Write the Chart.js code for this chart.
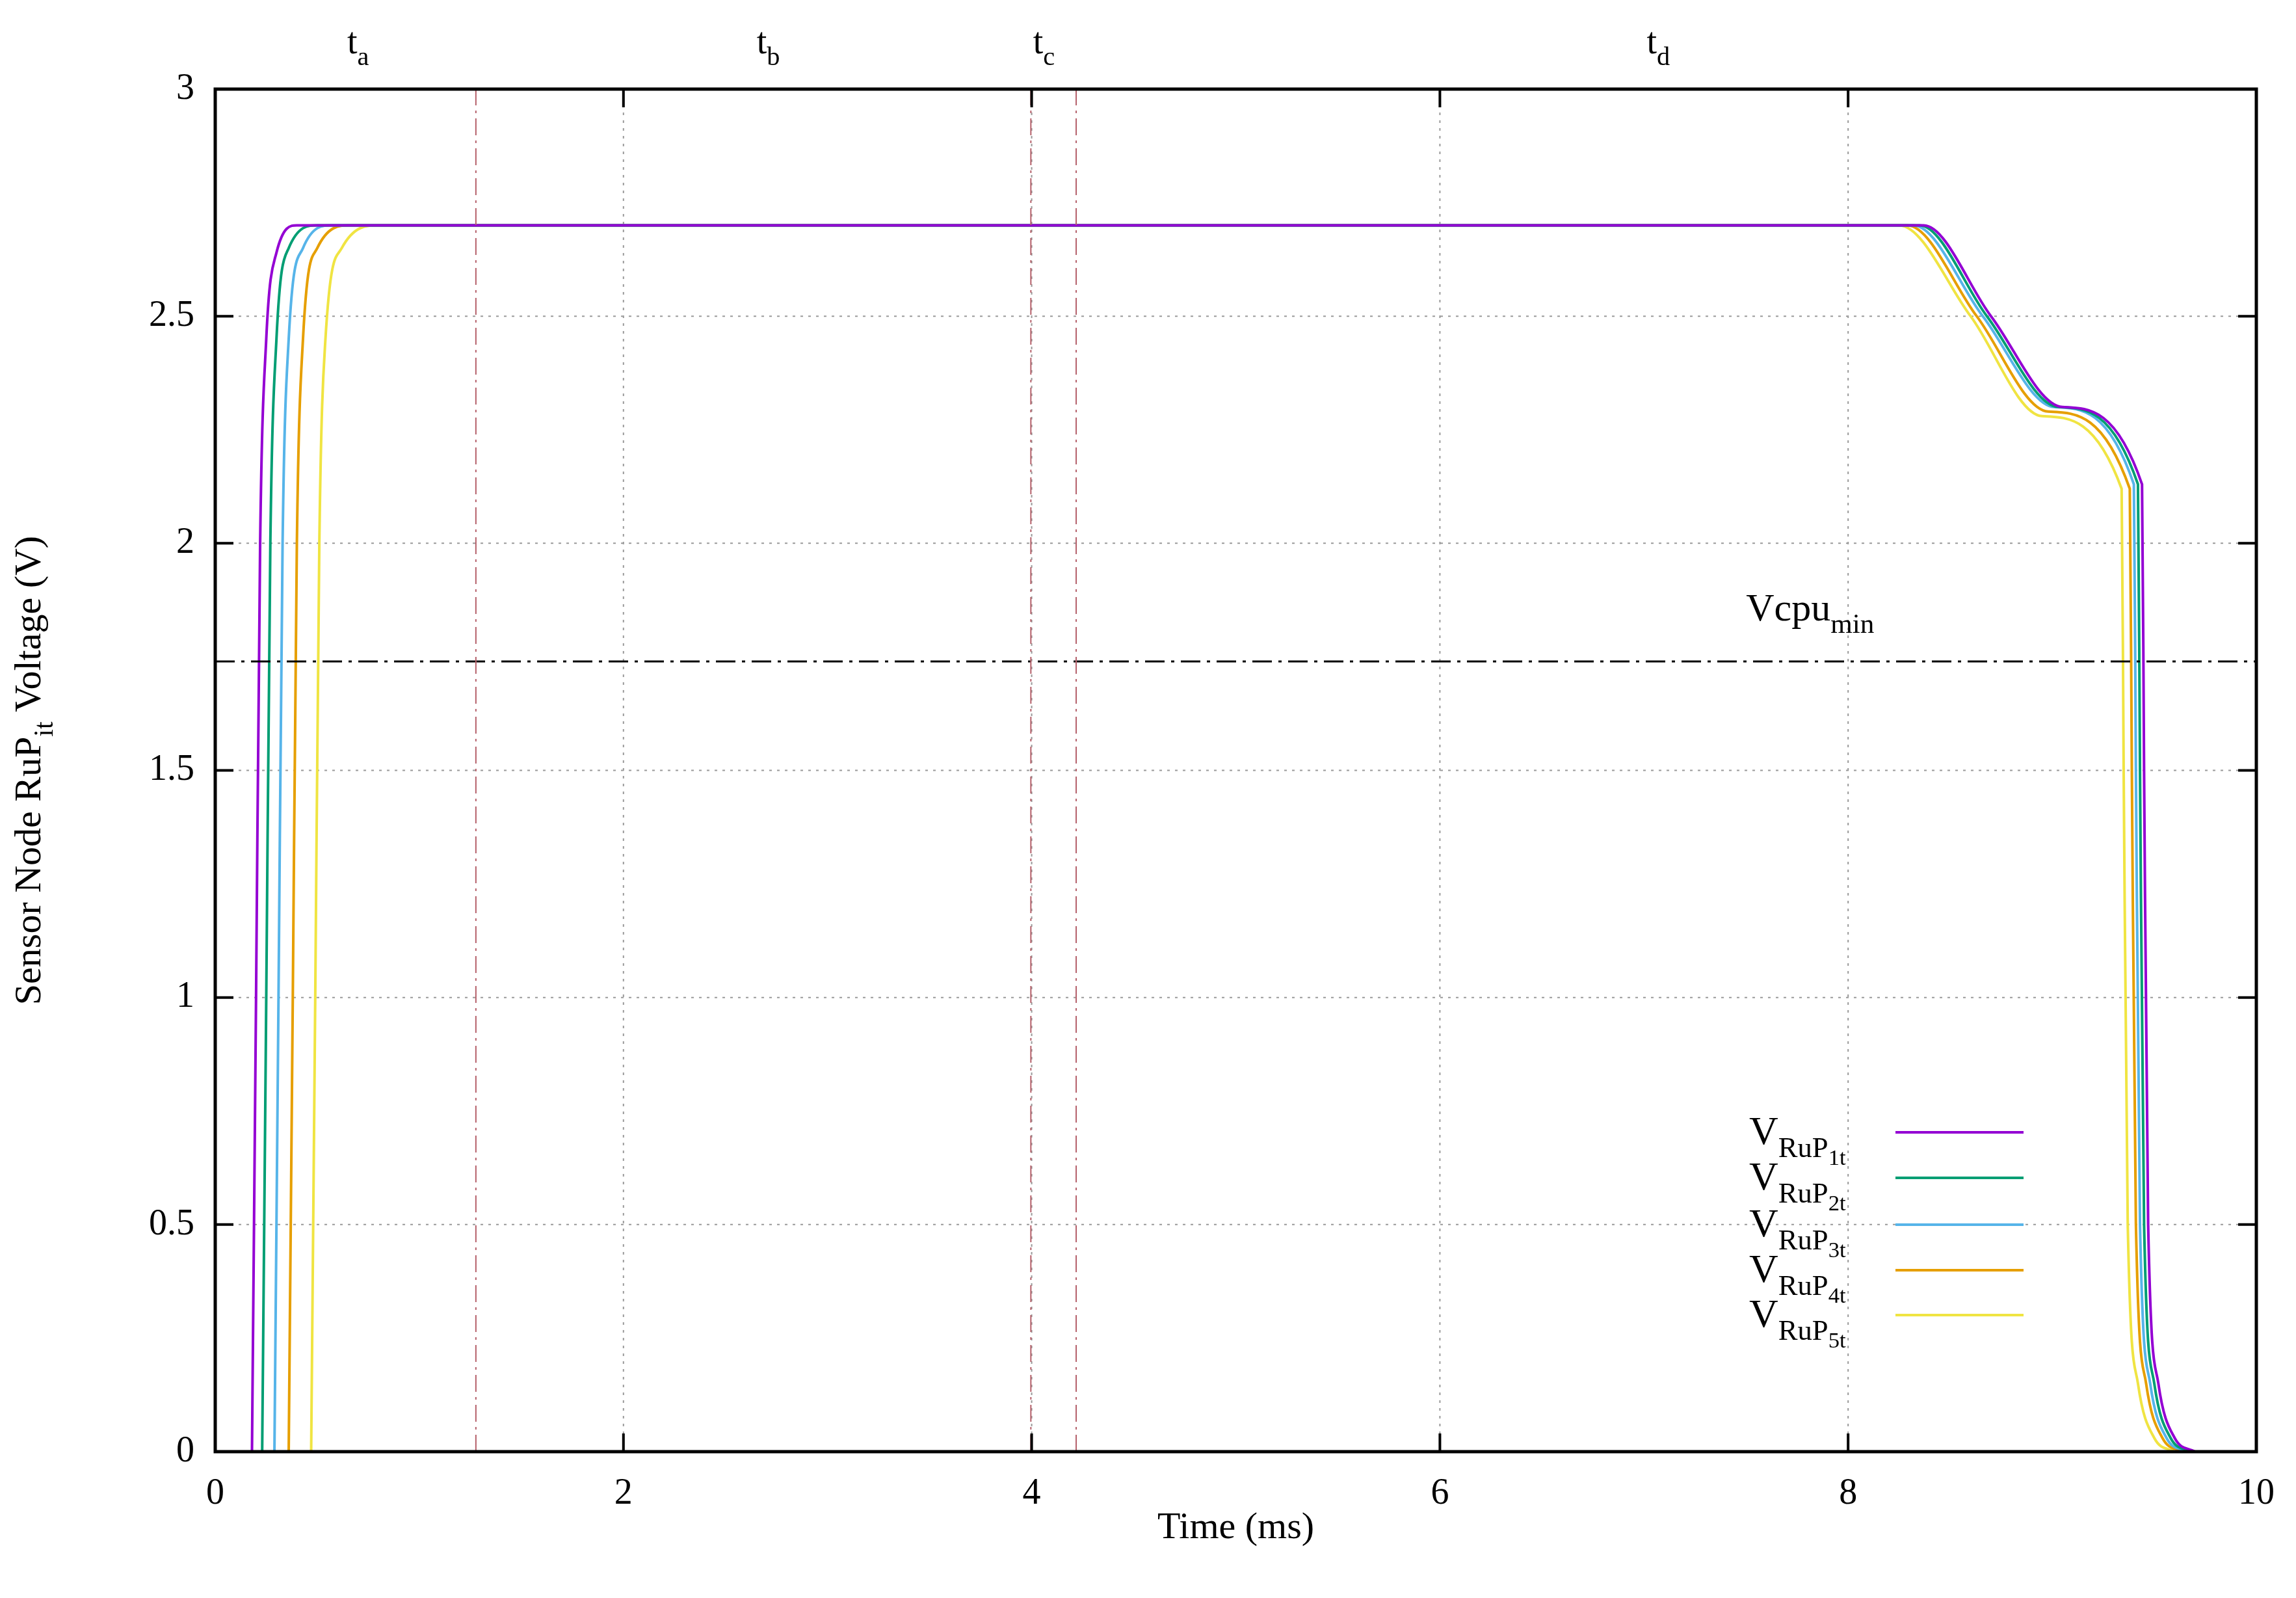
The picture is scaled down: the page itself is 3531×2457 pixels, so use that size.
<!DOCTYPE html>
<html>
<head>
<meta charset="utf-8">
<script src="https://cdn.jsdelivr.net/npm/chart.js@4"></script>
<style>
  html, body { margin: 0; padding: 0; background: #fff; }
  #wrap { width: 3531px; height: 2457px; }
</style>
</head>
<body>
<div id="wrap"><canvas id="chart"></canvas></div>
<script>
// --- data (time in ms, voltage in V) ---
const seriesNames = ['1t', '2t', '3t', '4t', '5t'];
const seriesColors = ['#9400d3', '#009e73', '#56b4e9', '#e69f00', '#f0e442'];

const vRuP1 = [[0.18,0],[0.20,1.0],[0.22,2.0],[0.25,2.45],[0.30,2.64],[0.40,2.70],[8.37,2.70],[8.70,2.50],[9.05,2.30],[9.44,2.13],[9.45,1.5],[9.47,0.5],[9.52,0.15],[9.60,0.03],[9.70,0]];
const vRuP2 = [[0.23,0],[0.25,1.0],[0.27,2.0],[0.30,2.45],[0.36,2.65],[0.50,2.70],[8.35,2.70],[8.68,2.50],[9.03,2.30],[9.42,2.13],[9.43,1.5],[9.45,0.5],[9.50,0.15],[9.58,0.03],[9.68,0]];
const vRuP3 = [[0.29,0],[0.31,1.0],[0.33,2.0],[0.36,2.45],[0.43,2.65],[0.57,2.70],[8.32,2.70],[8.66,2.50],[9.01,2.30],[9.40,2.13],[9.41,1.5],[9.43,0.5],[9.48,0.15],[9.56,0.03],[9.66,0]];
const vRuP4 = [[0.36,0],[0.38,1.0],[0.40,2.0],[0.43,2.45],[0.50,2.65],[0.66,2.70],[8.29,2.70],[8.63,2.50],[8.98,2.29],[9.38,2.12],[9.39,1.5],[9.41,0.5],[9.46,0.15],[9.54,0.03],[9.64,0]];
const vRuP5 = [[0.47,0],[0.49,1.0],[0.51,2.0],[0.54,2.45],[0.62,2.65],[0.80,2.70],[8.25,2.70],[8.60,2.50],[8.95,2.28],[9.34,2.12],[9.35,1.5],[9.37,0.5],[9.42,0.15],[9.50,0.03],[9.60,0]];
const allSeries = [vRuP1, vRuP2, vRuP3, vRuP4, vRuP5];

const phaseLines = [1.277, 3.996, 4.218];         // red dash-dot markers
const phaseLabels = [['t','a',0.70], ['t','b',2.71], ['t','c',4.06], ['t','d',7.07]];
const vcpuMin = 1.74;
const xTicks = [0, 2, 4, 6, 8, 10];
const yTicks = [0, 0.5, 1, 1.5, 2, 2.5, 3];

const SERIF = '"Liberation Serif", "DejaVu Serif", serif';

// draws text made of [string, level] pieces, level 0 normal, 1 sub, 2 subsub
function drawParts(ctx, parts, x, y, size, align) {
    const sizes = [size, size * 0.72, size * 0.56];
    const drops = [0, size * 0.32, size * 0.52];
    let w = 0;
    parts.forEach(p => { ctx.font = sizes[p[1]] + 'px ' + SERIF; w += ctx.measureText(p[0]).width; });
    let cx = align === 'center' ? x - w / 2 : x;
    ctx.textAlign = 'left';
    ctx.textBaseline = 'alphabetic';
    parts.forEach(p => {
        ctx.font = sizes[p[1]] + 'px ' + SERIF;
        ctx.fillText(p[0], cx, y + drops[p[1]]);
        cx += ctx.measureText(p[0]).width;
    });
}

const gridLines = {
    id: 'gridLines',
    beforeDatasetsDraw(chart) {
        const ctx = chart.ctx;
        const a = chart.chartArea;
        const xs = chart.scales.x, ys = chart.scales.y;
        ctx.save();
        ctx.strokeStyle = '#9a9a9a';
        ctx.lineWidth = 2;
        ctx.setLineDash([4, 8]);
        xTicks.slice(1, -1).forEach(v => {
            const px = xs.getPixelForValue(v);
            ctx.beginPath(); ctx.moveTo(px, a.top); ctx.lineTo(px, a.bottom); ctx.stroke();
        });
        yTicks.slice(1, -1).forEach(v => {
            const py = ys.getPixelForValue(v);
            ctx.beginPath(); ctx.moveTo(a.left, py); ctx.lineTo(a.right, py); ctx.stroke();
        });
        ctx.restore();
    }
};

const decor = {
    id: 'decor',
    afterDraw(chart) {
        const ctx = chart.ctx;
        const a = chart.chartArea;
        const xs = chart.scales.x, ys = chart.scales.y;
        ctx.save();
        ctx.fillStyle = '#000';
        ctx.strokeStyle = '#000';
        // ticks inward, both sides
        ctx.lineWidth = 4;
        xTicks.forEach(v => {
            const px = xs.getPixelForValue(v);
            ctx.beginPath();
            ctx.moveTo(px, a.bottom); ctx.lineTo(px, a.bottom - 28);
            ctx.moveTo(px, a.top); ctx.lineTo(px, a.top + 28);
            ctx.stroke();
        });
        yTicks.forEach(v => {
            const py = ys.getPixelForValue(v);
            ctx.beginPath();
            ctx.moveTo(a.left, py); ctx.lineTo(a.left + 28, py);
            ctx.moveTo(a.right, py); ctx.lineTo(a.right - 28, py);
            ctx.stroke();
        });
        ctx.lineWidth = 5;
        ctx.strokeRect(a.left, a.top, a.right - a.left, a.bottom - a.top);

        // phase labels above the plot
        phaseLabels.forEach(l => {
            drawParts(ctx, [[l[0], 0], [l[1], 1]], xs.getPixelForValue(l[2]), 82, 56, 'center');
        });
        // Vcpu_min label
        drawParts(ctx, [['Vcpu', 0], ['min', 1]], xs.getPixelForValue(7.5), ys.getPixelForValue(1.83), 60, 'left');

        // axis titles
        drawParts(ctx, [['Time (ms)', 0]], (a.left + a.right) / 2, 2365, 58, 'center');
        ctx.save();
        ctx.translate(62, (a.top + a.bottom) / 2);
        ctx.rotate(-Math.PI / 2);
        drawParts(ctx, [['Sensor Node RuP', 0], ['it', 1], [' Voltage (V)', 0]], 0, 0, 58, 'center');
        ctx.restore();

        // legend
        const rowY = [1741, 1811, 1883, 1953, 2022];
        seriesNames.forEach((n, i) => {
            ctx.fillStyle = '#000';
            drawParts(ctx, [['V', 0], ['RuP', 1], [n, 2]], 2690, rowY[i] + 18, 62, 'left');
            ctx.strokeStyle = seriesColors[i];
            ctx.lineWidth = 4;
            ctx.beginPath();
            ctx.moveTo(2915, rowY[i]); ctx.lineTo(3112, rowY[i]);
            ctx.stroke();
        });
        ctx.restore();
    }
};

const datasets = [];
phaseLines.forEach(v => datasets.push({
    data: [{x: v, y: 0}, {x: v, y: 3}],
    borderColor: '#b5606a', borderWidth: 2, borderDash: [26, 8, 4, 8], pointRadius: 0
}));
datasets.push({
    data: [{x: 0, y: vcpuMin}, {x: 10, y: vcpuMin}],
    borderColor: '#000', borderWidth: 3, borderDash: [30, 10, 5, 10], pointRadius: 0
});
allSeries.forEach((s, i) => datasets.push({
    label: 'V_RuP_' + seriesNames[i],
    data: s.map(p => ({x: p[0], y: p[1]})),
    borderColor: seriesColors[i], borderWidth: 4, pointRadius: 0,
    cubicInterpolationMode: 'monotone'
}));

new Chart(document.getElementById('chart'), {
    type: 'line',
    data: { datasets: datasets },
    options: {
        responsive: true,
        maintainAspectRatio: false,
        animation: false,
        layout: { padding: { top: 137, right: 61 } },
        plugins: { legend: { display: false }, tooltip: { enabled: false } },
        scales: {
            x: {
                type: 'linear', min: 0, max: 10,
                afterBuildTicks: s => { s.ticks = xTicks.map(v => ({value: v})); },
                afterFit: s => { s.height = 225; },
                grid: { display: false },
                border: { display: false },
                ticks: { color: '#000', font: { family: SERIF, size: 56 }, padding: 24, callback: v => String(v) }
            },
            y: {
                min: 0, max: 3,
                afterBuildTicks: s => { s.ticks = yTicks.map(v => ({value: v})); },
                afterFit: s => { s.width = 331; },
                grid: { display: false },
                border: { display: false },
                ticks: { color: '#000', font: { family: SERIF, size: 56 }, padding: 24, callback: v => String(v) }
            }
        }
    },
    plugins: [gridLines, decor]
});
</script>
</body>
</html>
